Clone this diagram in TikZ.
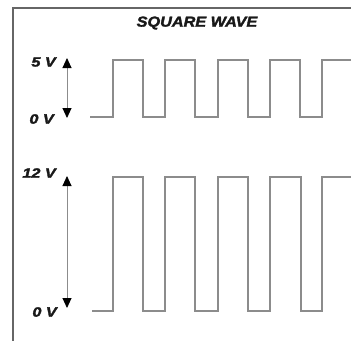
\documentclass[tikz,border=0pt]{standalone}
\usepackage{fontspec}
\setmainfont{Liberation Sans}[BoldItalicFeatures={FakeBold=2}]
\usetikzlibrary{arrows.meta}
\begin{document}
\begin{tikzpicture}[x=1pt,y=-1pt,
  frame/.style={draw=black!60, line width=2.2pt},
  wave/.style={draw=black!45, line width=1.3pt, line join=miter},
  volt/.style={draw=black!45, line width=0.9pt,
    {Triangle[width=9pt,length=10pt,black]}-{Triangle[width=9pt,length=10pt,black]}},
  lbl/.style={font=\fontsize{13.5}{15}\selectfont\bfseries\itshape, text=black!90, anchor=east, inner sep=0pt, xscale=1.2, transform shape},
  ttl/.style={font=\fontsize{14.5}{16}\selectfont\bfseries\itshape, text=black!90, inner sep=0pt, xscale=1.12, transform shape}]
\useasboundingbox[fill=white] (0,0) rectangle (351,341);
% frame
\draw[frame] (351,8) -- (13,8) -- (13,341);
% title
\node[ttl] (title) at (197,23) {SQUARE WAVE};
% top wave
\draw[wave] (90,117) -- (113,117) -- (113,60) -- (143,60) -- (143,117) -- (165,117) -- (165,60)
  -- (195,60) -- (195,117) -- (218,117) -- (218,60) -- (248,60) -- (248,117) -- (270,117)
  -- (270,60) -- (300,60) -- (300,117) -- (322,117) -- (322,60) -- (352,60);
% bottom wave
\draw[wave] (92,311) -- (113,311) -- (113,177) -- (143,177) -- (143,311) -- (165,311) -- (165,177)
  -- (195,177) -- (195,311) -- (218,311) -- (218,177) -- (248,177) -- (248,311) -- (270,311)
  -- (270,177) -- (301,177) -- (301,311) -- (322,311) -- (322,177) -- (352,177);
% arrows
\coordinate (a1t) at (67,58);
\coordinate (a1b) at (67,118);
\coordinate (a2t) at (67,176);
\coordinate (a2b) at (67,308);
\draw[volt] (a1t) -- (a1b);
\draw[volt] (a2t) -- (a2b);
% labels
\node[lbl] (l5) at (56,62) {5 V};
\node[lbl] (l0a) at (54,119) {0 V};
\node[lbl] (l12) at (56,173) {12 V};
\node[lbl] (l0b) at (57,312) {0 V};
\end{tikzpicture}
\end{document}
